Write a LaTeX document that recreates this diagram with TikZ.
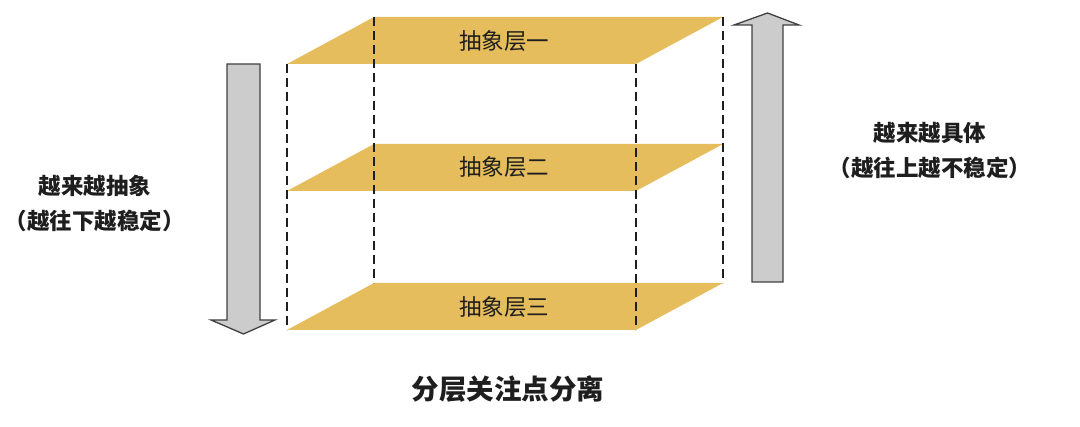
\documentclass[tikz,border=0pt]{standalone}
\usepackage{fontspec}
\newfontfamily\cjk{Noto Sans CJK SC}
\definecolor{layeryellow}{HTML}{E5BD5C}
\definecolor{arrowgray}{HTML}{CCCCCC}
\definecolor{inkdark}{HTML}{1E1E1E}
\tikzset{
  layer/.style={fill=layeryellow, draw=none},
  guide/.style={draw=inkdark, line width=1.1pt, dash pattern=on 9pt off 5pt},
  bigarrow/.style={fill=arrowgray, draw=inkdark!85, line width=1.3pt, line join=miter},
  layerlabel/.style={font=\cjk\fontsize{22.5}{26}\selectfont, text=inkdark, inner sep=0pt},
  sidelabel/.style={font=\cjk\bfseries\fontsize{22.5}{35}\selectfont, text=inkdark, align=center, inner sep=0pt},
  titlelabel/.style={font=\cjk\bfseries\fontsize{27.5}{32}\selectfont, text=inkdark, inner sep=0pt}
}
\begin{document}
\begin{tikzpicture}[x=1pt,y=-1pt]
\useasboundingbox (0,0) rectangle (1080,427);
% layers
\path[layer] (287,64) -- (374,17) -- (723,17) -- (636,64) -- cycle;
\path[layer] (287,191) -- (374,144) -- (723,144) -- (636,191) -- cycle;
\path[layer] (287,330) -- (374,283) -- (723,283) -- (636,330) -- cycle;
% dashed guides
\draw[guide] (287,64) -- (287,330);
\draw[guide] (636,64) -- (636,330);
\draw[guide] (374,17) -- (374,283);
\draw[guide] (723,17) -- (723,283);
% layer labels
\node[layerlabel] (l1) at (504,41) {抽象层一};
\node[layerlabel] (l2) at (504,167) {抽象层二};
\node[layerlabel] (l3) at (504,307) {抽象层三};
% arrows
\draw[bigarrow] (227,64) -- (260,64) -- (260,320) -- (275,320) -- (243.5,334) -- (211,320) -- (227,320) -- cycle;
\draw[bigarrow] (752,282) -- (783,282) -- (783,25) -- (799,25) -- (767.5,13) -- (734,25) -- (752,25) -- cycle;
% side texts
\node[sidelabel] (left) at (95,203.5) {越来越抽象\\（越往下越稳定）};
\node[sidelabel] (right) at (930,151) {越来越具体\\（越往上越不稳定）};
% title
\node[titlelabel] (title) at (508,389) {分层关注点分离};
\end{tikzpicture}
\end{document}
